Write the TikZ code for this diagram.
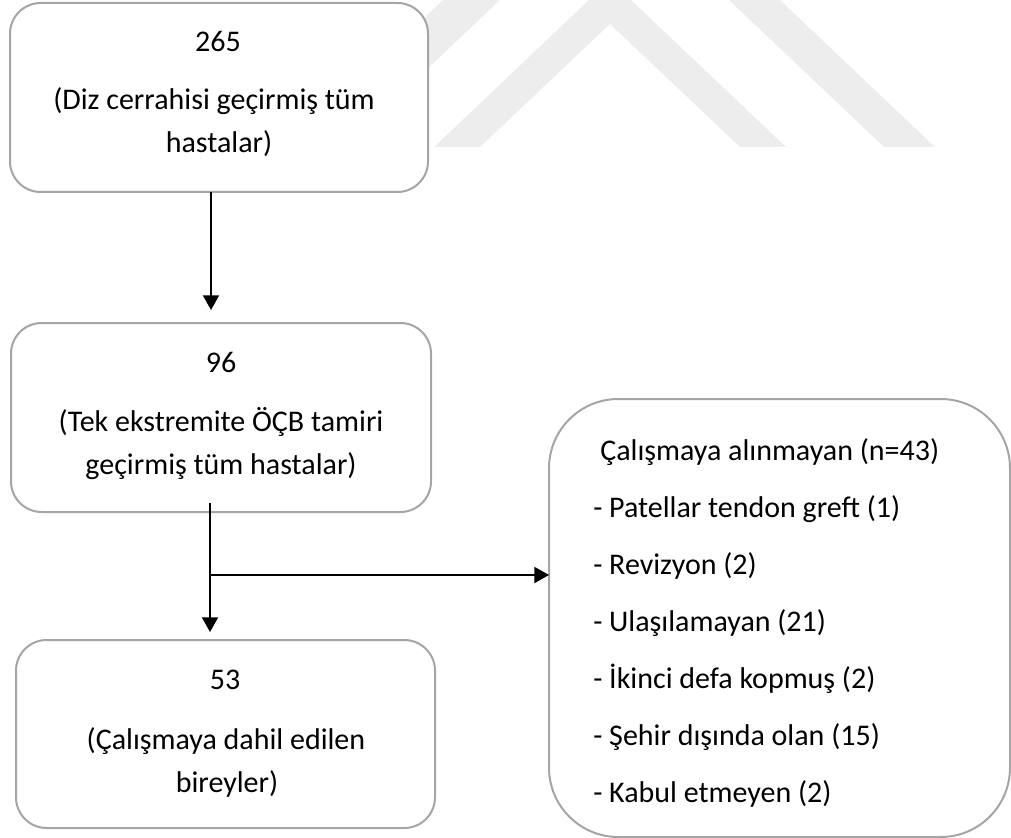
\documentclass[tikz,border=0pt]{standalone}
\usepackage{fontspec}
\setmainfont{Carlito}
\usetikzlibrary{arrows.meta}
\definecolor{wm}{RGB}{237,237,237}
\definecolor{bordergray}{RGB}{165,165,165}
\begin{document}
\begin{tikzpicture}[x=0.75pt,y=-0.75pt,
  box/.style={draw=bordergray, line width=1.5pt, fill=white, rounded corners=23pt, outer sep=0pt, inner sep=0pt},
  bigbox/.style={box, rounded corners=52pt},
  txt/.style={inner sep=0pt, anchor=base, font=\fontsize{22.5}{30}\selectfont},
  ltxt/.style={txt, anchor=base west},
  arr/.style={line width=1.5pt, -{Triangle[length=11pt,width=12pt]}}]
\useasboundingbox (0,0) rectangle (1011,838);
% watermark
\fill[wm] (288,147) -- (443,0) -- (500,0) -- (345,147) -- cycle;
\fill[wm] (434,147) -- (589,0) -- (631,0) -- (786,147) -- (740,147) -- (610,24) -- (480,147) -- cycle;
\fill[wm] (729,0) -- (780,0) -- (935,147) -- (884,147) -- cycle;
% boxes
\node[box, minimum width=313.5pt, minimum height=141.75pt] (b1) at (219,97.5) {};
\node[box, minimum width=315pt, minimum height=141.75pt] (b2) at (221,417.5) {};
\node[box, minimum width=314.25pt, minimum height=141pt] (b3) at (225.5,734) {};
\node[bigbox, minimum width=345.75pt, minimum height=328.5pt] (b4) at (779.5,618) {};
% texts box 1
\node[txt] (t1a) at (218,52) {265};
\node[txt] (t1b) at (214,110) {(Diz cerrahisi geçirmiş tüm};
\node[txt] (t1c) at (219,153) {hastalar)};
% texts box 2
\node[txt] (t2a) at (221,372) {96};
\node[txt] (t2b) at (221,431) {(Tek ekstremite ÖÇB tamiri};
\node[txt] (t2c) at (221,474) {geçirmiş tüm hastalar)};
% texts box 3
\node[txt] (t3a) at (225,689) {53};
\node[txt] (t3b) at (226,749) {(Çalışmaya dahil edilen};
\node[txt] (t3c) at (227,792) {bireyler)};
% texts box 4
\node[ltxt] (t4a) at (600,460) {Çalışmaya alınmayan (n=43)};
\node[ltxt] (t4b) at (593,517) {- Patellar tendon greft (1)};
\node[ltxt] (t4c) at (593,574) {- Revizyon (2)};
\node[ltxt] (t4d) at (593,631) {- Ulaşılamayan (21)};
\node[ltxt] (t4e) at (593,688) {- İkinci defa kopmuş (2)};
\node[ltxt] (t4f) at (593,745) {- Şehir dışında olan (15)};
\node[ltxt] (t4g) at (593,802) {- Kabul etmeyen (2)};
% connectors
\coordinate (a1e) at (211,310);
\coordinate (a2s) at (210,503);
\coordinate (a2e) at (210,632);
\coordinate (j) at (210,575);
\draw[arr] (b1.south -| a1e) -- (a1e);
\draw[arr] (a2s) -- (a2e);
\draw[arr] (j) -- (j -| b4.west);
\end{tikzpicture}
\end{document}
